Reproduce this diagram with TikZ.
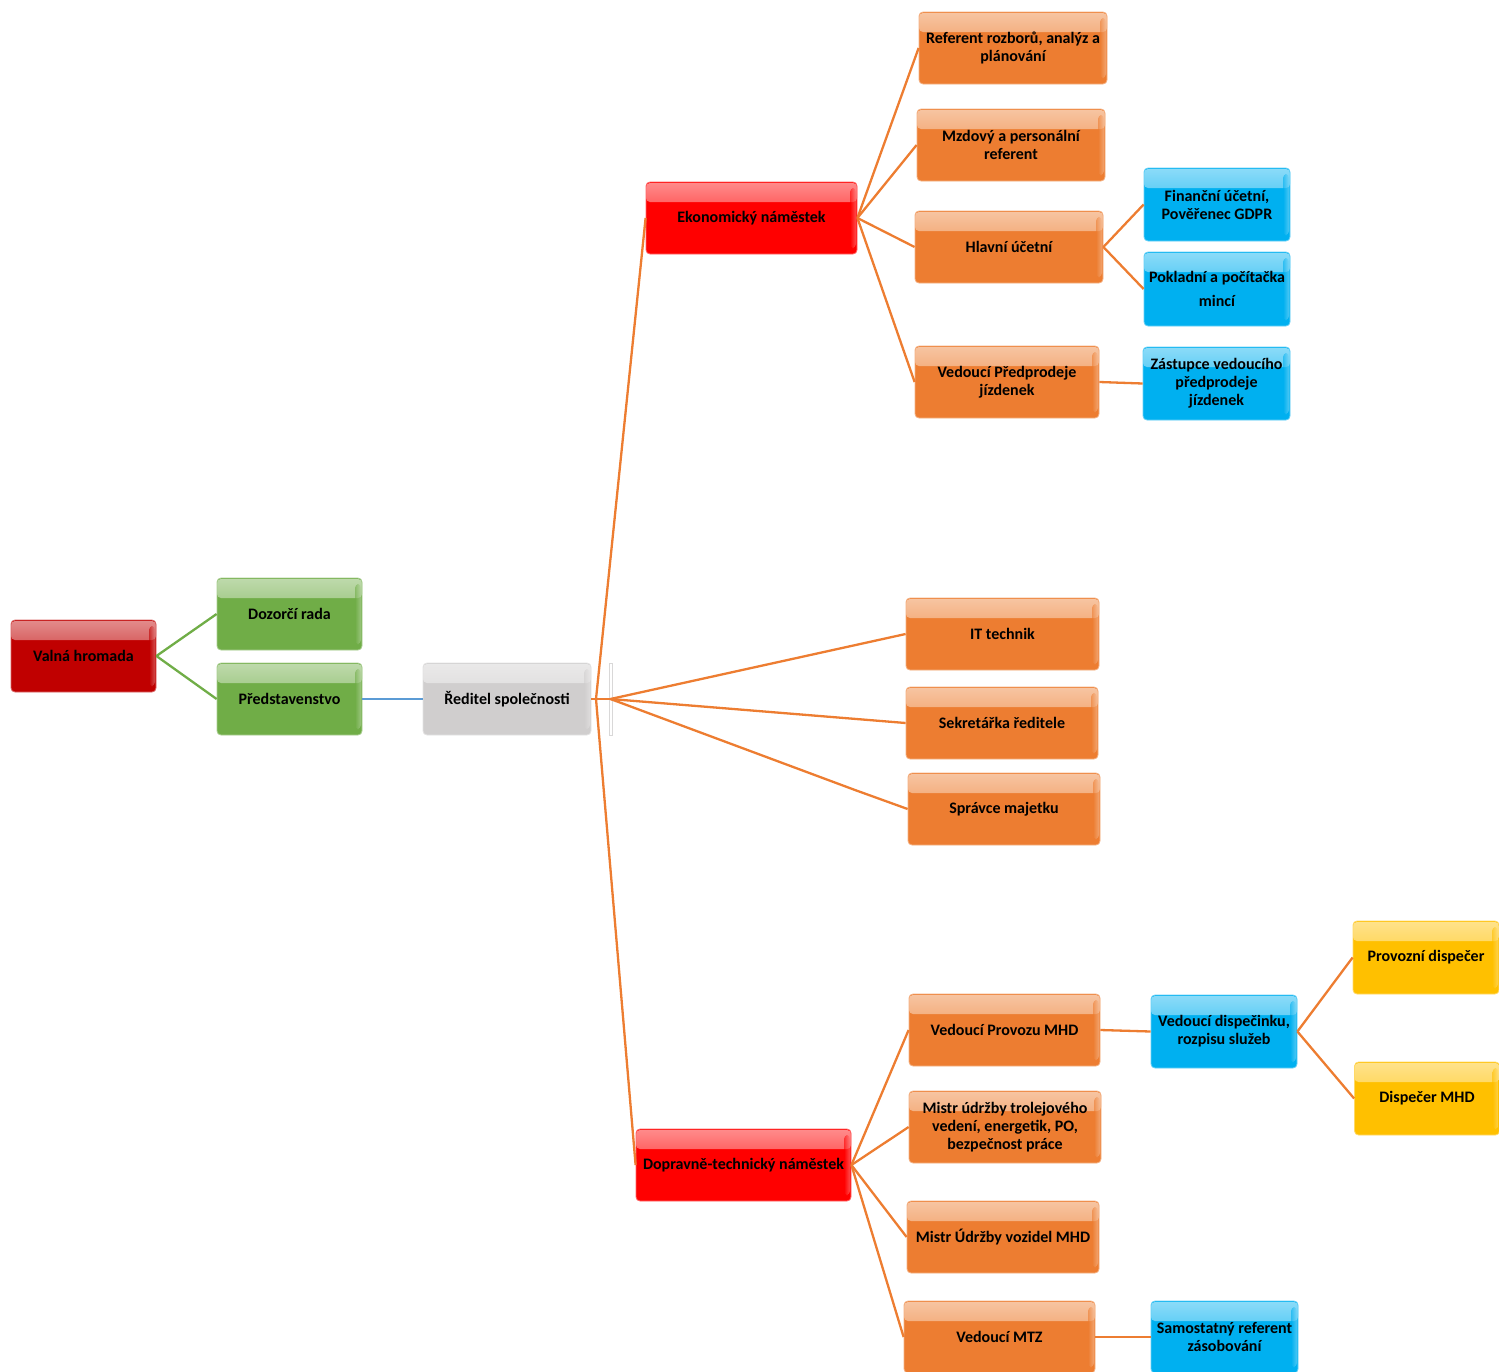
\documentclass[tikz,border=0pt]{standalone}
\usepackage{fontspec}
\setmainfont{Carlito}
\definecolor{cdarkred}{HTML}{C00000}
\definecolor{cred}{HTML}{FF0000}
\definecolor{cgreen}{HTML}{70AD47}
\definecolor{cgray}{HTML}{D0CECE}
\definecolor{corange}{HTML}{ED7D31}
\definecolor{cblue}{HTML}{00B0F0}
\definecolor{cyellow}{HTML}{FFC000}
\definecolor{clineblue}{HTML}{5B9BD5}
\begin{document}
\begin{tikzpicture}[x=1pt,y=-1pt,
  box/.style={rectangle, rounded corners=4pt, fill=#1, draw=#1!60!white, line width=0.8pt,
    inner sep=0pt, align=center, font=\fontsize{16}{18}\selectfont\bfseries,
    path picture={
      \shade[top color=#1!45!white, bottom color=#1]
        ([yshift=-1pt]path picture bounding box.north west) rectangle ([yshift=-20pt]path picture bounding box.north east);
      \shade[left color=#1, right color=#1!50!white, opacity=0.6]
        ([xshift=-7pt,yshift=-6pt]path picture bounding box.north east) rectangle ([xshift=-1pt,yshift=6pt]path picture bounding box.south east);
    }},
  oline/.style={draw=corange, line width=2.3pt},
  gline/.style={draw=cgreen, line width=2.3pt},
  bline/.style={draw=clineblue, line width=2.8pt}]
\useasboundingbox (0,0) rectangle (1499,1371);
\clip (0,0) rectangle (1499,1371);

% left part
\node[box=cdarkred, minimum width=145, minimum height=72] (valna) at (83.5,656) {Valná hromada};
\node[box=cgreen, minimum width=145, minimum height=72] (dozor) at (289.5,614) {Dozorčí rada};
\node[box=cgreen, minimum width=145, minimum height=72] (pred) at (289.5,699) {Představenstvo};
\node[box=cgray, minimum width=168, minimum height=72] (redit) at (507,699) {Ředitel společnosti};
\node[rectangle, draw=cgray!80, fill=white, line width=0.8pt, minimum width=3, minimum height=72, inner sep=0pt] (bar) at (610.5,699) {};
\coordinate (j1) at (596,699);

% economic branch
\node[box=cred, minimum width=211, minimum height=72] (ekon) at (751.5,218) {Ekonomický náměstek};
\node[box=corange, minimum width=188, minimum height=72] (refroz) at (1013,48) {Referent rozborů, analýz a\\plánování};
\node[box=corange, minimum width=188, minimum height=72] (mzdovy) at (1011,145) {Mzdový a personální\\referent};
\node[box=corange, minimum width=188, minimum height=72] (hlavni) at (1009,247) {Hlavní účetní};
\node[box=corange, minimum width=184, minimum height=72] (predprod) at (1007,382) {Vedoucí Předprodeje\\jízdenek};
\node[box=cblue, minimum width=146, minimum height=73] (financ) at (1217,204.5) {Finanční účetní,\\Pověřenec GDPR};
\node[box=cblue, minimum width=146, minimum height=74] (poklad) at (1217,289) {Pokladní a počítačka\\[6pt]mincí};
\node[box=cblue, minimum width=147, minimum height=73] (zastup) at (1216.5,383.5) {Zástupce vedoucího\\předprodeje\\jízdenek};

% direct reports
\node[box=corange, minimum width=193, minimum height=72] (ittech) at (1002.5,634) {IT technik};
\node[box=corange, minimum width=192, minimum height=72] (sekret) at (1002,723) {Sekretářka ředitele};
\node[box=corange, minimum width=192, minimum height=72] (spravce) at (1004,809) {Správce majetku};
\coordinate (kink) at (855,790);

% transport branch
\node[box=cred, minimum width=215, minimum height=72] (doprav) at (743.5,1165) {Dopravně-technický náměstek};
\node[box=corange, minimum width=191, minimum height=72] (provoz) at (1004.5,1030) {Vedoucí Provozu MHD};
\node[box=corange, minimum width=192, minimum height=72] (mistrtrol) at (1005,1127) {Mistr údržby trolejového\\vedení, energetik, PO,\\bezpečnost práce};
\node[box=corange, minimum width=192, minimum height=72] (mistrvoz) at (1003,1237) {Mistr Údržby vozidel MHD};
\node[box=corange, minimum width=191, minimum height=72] (mtz) at (999.5,1337) {Vedoucí MTZ};
\node[box=cblue, minimum width=146, minimum height=73] (dispec) at (1224,1031.5) {Vedoucí dispečinku,\\rozpisu služeb};
\node[box=cblue, minimum width=147, minimum height=72] (samost) at (1224.5,1337) {Samostatný referent\\zásobování};
\node[box=cyellow, minimum width=146, minimum height=73] (provdisp) at (1426,957.5) {Provozní dispečer};
\node[box=cyellow, minimum width=145, minimum height=73] (dispmhd) at (1427,1098.5) {Dispečer MHD};

% connectors
\draw[gline] (valna.east) -- (dozor.west);
\draw[gline] (valna.east) -- (pred.west);
\draw[bline] (pred.east) -- (redit.west);
\draw[oline] (redit.east) -- (bar.center);
\draw[oline] (j1) -- (ekon.west);
\draw[oline] (j1) -- (doprav.west);
\draw[oline] (bar.center) -- (ittech.west);
\draw[oline] (bar.center) -- (sekret.west);
\draw[oline] (bar.center) -- (kink) -- (spravce.west);
\draw[oline] (ekon.east) -- (refroz.west);
\draw[oline] (ekon.east) -- (mzdovy.west);
\draw[oline] (ekon.east) -- (hlavni.west);
\draw[oline] (ekon.east) -- (predprod.west);
\draw[oline] (hlavni.east) -- (financ.west);
\draw[oline] (hlavni.east) -- (poklad.west);
\draw[oline] (predprod.east) -- (zastup.west);
\draw[oline] (doprav.east) -- (provoz.west);
\draw[oline] (doprav.east) -- (mistrtrol.west);
\draw[oline] (doprav.east) -- (mistrvoz.west);
\draw[oline] (doprav.east) -- (mtz.west);
\draw[oline] (provoz.east) -- (dispec.west);
\draw[oline] (dispec.east) -- (provdisp.west);
\draw[oline] (dispec.east) -- (dispmhd.west);
\draw[oline] (mtz.east) -- (samost.west);
\end{tikzpicture}
\end{document}
